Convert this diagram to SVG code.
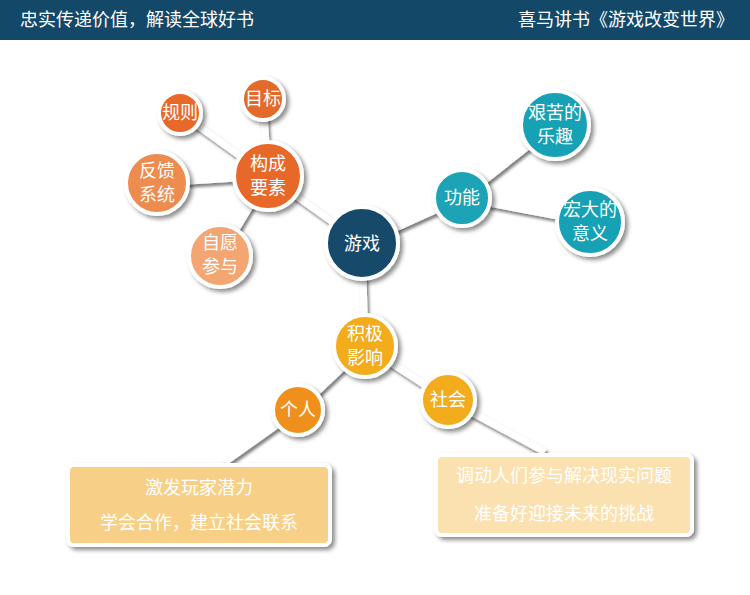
<svg xmlns="http://www.w3.org/2000/svg" width="750" height="595" viewBox="0 0 750 595">
<defs>
<filter id="sh" x="-30%" y="-30%" width="160%" height="160%"><feDropShadow dx="3" dy="3" stdDeviation="2" flood-color="#000" flood-opacity="0.45"/></filter>
<filter id="ls" x="-20%" y="-20%" width="140%" height="140%"><feDropShadow dx="2" dy="3" stdDeviation="1.5" flood-color="#000" flood-opacity="0.5"/></filter>
</defs>
<style>
text{font-family:"Noto Sans CJK SC","Liberation Sans",sans-serif;fill:#fff;text-anchor:middle}
.n circle{stroke:#fff;stroke-width:4;filter:url(#sh)}
.n text{font-size:18px}
.c{filter:url(#ls)}
.c line{stroke:#fff;stroke-width:7}
.b rect{stroke:#fff;stroke-width:4;filter:url(#sh)}
.b text{font-size:18px}
</style>
<rect width="750" height="595" fill="#fff"/>
<rect width="750" height="40" fill="#134868"/>
<text x="20" y="26" style="font-size:18px;text-anchor:start">忠实传递价值，解读全球好书</text>
<text x="734" y="26" style="font-size:18px;text-anchor:end">喜马讲书《游戏改变世界》</text>
<g id="connectors" class="c">
<line x1="362" y1="243" x2="268" y2="176"/><line x1="268" y1="176" x2="263" y2="99"/><line x1="268" y1="176" x2="180" y2="113"/><line x1="268" y1="176" x2="157" y2="183"/><line x1="268" y1="176" x2="220" y2="256"/><line x1="362" y1="243" x2="462" y2="198"/><line x1="462" y1="198" x2="555" y2="125"/><line x1="462" y1="198" x2="590" y2="222"/><line x1="362" y1="243" x2="365" y2="346"/><line x1="365" y1="346" x2="298" y2="410"/><line x1="365" y1="346" x2="448" y2="400"/><line x1="298" y1="410" x2="225" y2="462"/><line x1="448" y1="400" x2="545" y2="452"/>
</g>
<g id="box1" class="b"><rect x="68" y="465" width="262" height="80" rx="6" fill="#f8cf86"/><text x="199" y="494">激发玩家潜力</text><text x="199" y="529">学会合作，建立社会联系</text></g>
<g id="box2" class="b"><rect x="436" y="455" width="256" height="80" rx="6" fill="#fbe0b0"/><text x="564" y="482">调动人们参与解决现实问题</text><text x="564" y="520">准备好迎接未来的挑战</text></g>
<g id="n-youxi" class="n"><circle cx="362" cy="243" r="36" fill="#154a6b"/><text x="362" y="250">游戏</text></g>
<g id="n-goucheng" class="n"><circle cx="268" cy="176" r="34" fill="#e8672a"/><text x="268" y="170">构成</text><text x="268" y="194">要素</text></g>
<g id="n-mubiao" class="n"><circle cx="263" cy="99" r="21" fill="#e36a2a"/><text x="263" y="105">目标</text></g>
<g id="n-guize" class="n"><circle cx="180" cy="113" r="21" fill="#e8672a"/><text x="180" y="119">规则</text></g>
<g id="n-fankui" class="n"><circle cx="157" cy="183" r="31" fill="#ee8b50"/><text x="157" y="177">反馈</text><text x="157" y="201">系统</text></g>
<g id="n-ziyuan" class="n"><circle cx="220" cy="256" r="31" fill="#f3a572"/><text x="220" y="249">自愿</text><text x="220" y="273">参与</text></g>
<g id="n-gongneng" class="n"><circle cx="462" cy="198" r="28" fill="#1aa3b6"/><text x="462" y="204">功能</text></g>
<g id="n-jianku" class="n"><circle cx="555" cy="125" r="34" fill="#15a1b4"/><text x="555" y="119">艰苦的</text><text x="555" y="143">乐趣</text></g>
<g id="n-hongda" class="n"><circle cx="590" cy="222" r="33" fill="#15a1b4"/><text x="590" y="216">宏大的</text><text x="590" y="240">意义</text></g>
<g id="n-jiji" class="n"><circle cx="365" cy="346" r="31" fill="#f2ac1e"/><text x="365" y="340">积极</text><text x="365" y="364">影响</text></g>
<g id="n-geren" class="n"><circle cx="298" cy="410" r="25" fill="#f0901c"/><text x="298" y="416">个人</text></g>
<g id="n-shehui" class="n"><circle cx="448" cy="400" r="27" fill="#f2ac1e"/><text x="448" y="406">社会</text></g>
</svg>
